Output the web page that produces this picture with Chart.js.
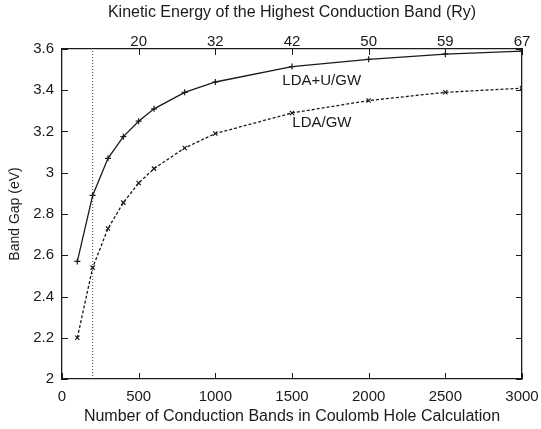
<!DOCTYPE html>
<html lang="en">
<head>
  <meta charset="UTF-8">
  <title>Band Gap</title>
  <script src="https://cdn.jsdelivr.net/npm/chart.js"></script>
  <style>
    body { margin: 0; background: #fff; }
    #wrap { width: 541px; height: 429px; }
  </style>
</head>
<body>
<div id="wrap"><canvas id="gapChart"></canvas></div>

<script>
  // values
  var bandCounts = [100, 200, 300, 400, 500, 600, 800, 1000, 1500, 2000, 2500, 3000];
  var ldaUGW = [2.57, 2.89, 3.07, 3.175, 3.25, 3.31, 3.39, 3.44, 3.515, 3.55, 3.575, 3.59];
  var ldaGW = [2.20, 2.54, 2.73, 2.855, 2.95, 3.02, 3.12, 3.19, 3.29, 3.35, 3.39, 3.41];
  var topTickPositions = [500, 1000, 1500, 2000, 2500, 3000];
  var topTickLabels = ['20', '32', '42', '50', '59', '67'];
  var cutoffX = [200, 200];
  var cutoffY = [2, 3.6];

  var font = 'Liberation Sans, Arial, sans-serif';
  var ink = '#1a1a1a';

  function pts(xs, ys) {
    return xs.map(function(x, i) { return { x: x, y: ys[i] }; });
  }

  // inward tick marks on all four sides, plus the curve labels
  var innerTicks = {
    id: 'innerTicks',
    afterDraw: function(chart) {
      var ctx = chart.ctx, a = chart.chartArea, len = 6;
      var sx = chart.scales.x, sx2 = chart.scales.x2, sy = chart.scales.y;
      ctx.save();
      ctx.strokeStyle = ink;
      ctx.lineWidth = 1;
      ctx.beginPath();
      sx.ticks.forEach(function(t) {
        var px = Math.round(sx.getPixelForValue(t.value)) + 0.5;
        ctx.moveTo(px, a.bottom); ctx.lineTo(px, a.bottom - len);
      });
      sx2.ticks.forEach(function(t) {
        var px = Math.round(sx2.getPixelForValue(t.value)) + 0.5;
        ctx.moveTo(px, a.top); ctx.lineTo(px, a.top + len);
      });
      sy.ticks.forEach(function(t) {
        var py = Math.round(sy.getPixelForValue(t.value)) + 0.5;
        ctx.moveTo(a.left, py); ctx.lineTo(a.left + len, py);
        ctx.moveTo(a.right, py); ctx.lineTo(a.right - len, py);
      });
      ctx.stroke();

      ctx.fillStyle = ink;
      ctx.font = '15px ' + font;
      ctx.textBaseline = 'middle';
      ctx.textAlign = 'left';
      ctx.fillText('LDA+U/GW', sx.getPixelForValue(1437), sy.getPixelForValue(3.445));
      ctx.fillText('LDA/GW', sx.getPixelForValue(1502), sy.getPixelForValue(3.241));
      ctx.restore();
    }
  };

  // keep the end labels from shrinking the plot area
  function noSidePad(s) { s.paddingLeft = 0; s.paddingRight = 0; }

  var ctx = document.getElementById('gapChart').getContext('2d');
  new Chart(ctx, {
    type: 'scatter',
    data: {
      datasets: [{
        label: 'LDA+U/GW',
        data: pts(bandCounts, ldaUGW),
        showLine: true,
        borderColor: ink,
        backgroundColor: ink,
        borderWidth: 1.3,
        pointStyle: 'cross',
        pointRadius: 3,
        pointBorderWidth: 1.2
      }, {
        label: 'LDA/GW',
        data: pts(bandCounts, ldaGW),
        showLine: true,
        borderColor: ink,
        backgroundColor: ink,
        borderWidth: 1.3,
        borderDash: [3, 2],
        pointStyle: 'crossRot',
        pointRadius: 3,
        pointBorderWidth: 1.2
      }, {
        label: 'cutoff',
        data: pts(cutoffX, cutoffY),
        showLine: true,
        borderColor: '#444',
        borderWidth: 1,
        borderDash: [1, 2],
        pointRadius: 0
      }]
    },
    options: {
      responsive: true,
      maintainAspectRatio: false,
      animation: false,
      layout: { padding: 0 },
      plugins: { legend: { display: false }, tooltip: { enabled: false } },
      scales: {
        x: {
          type: 'linear',
          position: 'bottom',
          min: 0, max: 3000,
          ticks: {
            stepSize: 500, color: ink, font: { family: font, size: 15 }, padding: 9, maxRotation: 0,
            callback: function(v) { return String(v); }
          },
          grid: { drawOnChartArea: false, drawTicks: false },
          border: { color: ink, width: 1.3 },
          title: { display: true, text: 'Number of Conduction Bands in Coulomb Hole Calculation',
                   color: ink, font: { family: font, size: 16 }, padding: { top: 0, bottom: 3 } },
          afterFit: function(s) { s.height = 50; noSidePad(s); }
        },
        x2: {
          type: 'linear',
          position: 'top',
          min: 0, max: 3000,
          afterBuildTicks: function(s) {
            s.ticks = topTickPositions.map(function(v) { return { value: v }; });
          },
          ticks: {
            color: ink, font: { family: font, size: 15 }, padding: -2, maxRotation: 0,
            callback: function(v) {
              var i = topTickPositions.indexOf(v);
              return i >= 0 ? topTickLabels[i] : '';
            }
          },
          grid: { drawOnChartArea: false, drawTicks: false },
          border: { color: ink, width: 1.3 },
          title: { display: true, text: 'Kinetic Energy of the Highest Conduction Band (Ry)',
                   color: ink, font: { family: font, size: 16 }, padding: { top: 3, bottom: 0 } },
          afterFit: function(s) { s.height = 49; noSidePad(s); }
        },
        y: {
          position: 'left',
          min: 2, max: 3.6,
          ticks: {
            stepSize: 0.2, color: ink, font: { family: font, size: 15 }, padding: 8,
            callback: function(v) { return String(Math.round(v * 10) / 10); }
          },
          grid: { drawOnChartArea: false, drawTicks: false },
          border: { color: ink, width: 1.3 },
          title: { display: true, text: 'Band Gap (eV)', color: ink,
                   font: { family: font, size: 14 }, padding: { top: 7, bottom: 0 } },
          afterFit: function(s) { s.width = 62; }
        },
        y2: {
          position: 'right',
          min: 2, max: 3.6,
          ticks: { display: false },
          grid: { drawOnChartArea: false, drawTicks: false },
          border: { color: ink, width: 1.3 },
          afterFit: function(s) { s.width = 19; }
        }
      }
    },
    plugins: [innerTicks]
  });
</script>
</body>
</html>
